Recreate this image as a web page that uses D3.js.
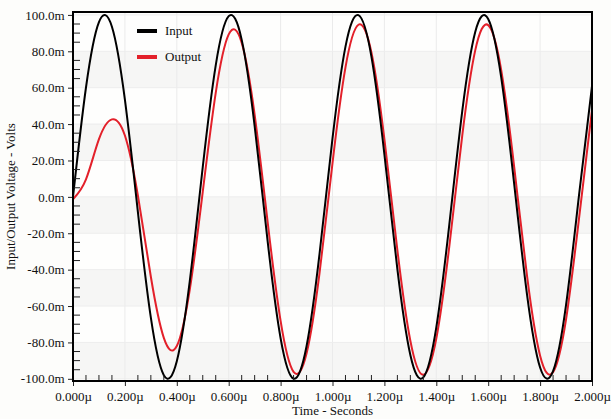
<!DOCTYPE html>
<html>
<head>
<meta charset="utf-8">
<script src="https://cdn.jsdelivr.net/npm/d3@7"></script>
<style>
  body { margin: 0; background: #fdfdfb; }
  svg text { font-family: "Liberation Serif", "Times New Roman", serif; fill: #111; }
</style>
</head>
<body>
<div id="chart"></div>
<script>
// time in microseconds
var timeUs = [0, 0.05, 0.1, 0.15, 0.2, 0.25, 0.3, 0.35, 0.4, 0.45, 0.5, 0.55, 0.6, 0.65, 0.7, 0.75, 0.8, 0.85, 0.9, 0.95,
  1.0, 1.05, 1.1, 1.15, 1.2, 1.25, 1.3, 1.35, 1.4, 1.45, 1.5, 1.55, 1.6, 1.65, 1.7, 1.75, 1.8, 1.85, 1.9, 1.95, 2.0];
// volts in milli
var inputMv = [0, 60.1, 96.1, 93.5, 53.4, -8.2, -66.4, -98.0, -90.3, -46.3, 16.3, 72.3, 99.3, 86.4, 38.9, -24.3, -77.7, -99.9, -82.1, -31.3,
  32.1, 82.6, 99.9, 77.1, 23.4, -39.7, -86.9, -99.2, -71.7, -15.4, 47.1, 90.6, 97.8, 65.8, 7.3, -54.1, -93.8, -95.8, -59.4, 0.9, 60.8];
var outputMv = [-1.3, 9.6, 31.7, 42.6, 33.7, 0.8, -43.9, -77.5, -82.0, -51.0, 2.8, 57.2, 89.3, 84.7, 45.1, -13.7, -68.2, -96.2, -86.1, -41.9,
  18.6, 71.2, 94.6, 79.4, 31.7, -29.2, -79.1, -97.8, -77.9, -27.3, 33.7, 80.5, 94.4, 69.8, 16.6, -43.9, -87.3, -96.3, -67.3, -11.8, 47.8];

var seriesNames = ["Input", "Output"];
var xTicks = [0, 0.2, 0.4, 0.6, 0.8, 1.0, 1.2, 1.4, 1.6, 1.8, 2.0];
var yTicks = [-100, -80, -60, -40, -20, 0, 20, 40, 60, 80, 100];

var svgWidth = 611;
var svgHeight = 419;
var margin = { top: 12, right: 19, bottom: 38, left: 73 };
var width = svgWidth - margin.left - margin.right;
var height = svgHeight - margin.top - margin.bottom;

var svg = d3.select("#chart")
    .append("svg")
    .attr("width", svgWidth)
    .attr("height", svgHeight);

svg.append("rect")
    .attr("width", svgWidth)
    .attr("height", svgHeight)
    .attr("fill", "#fdfdfb");

var chartGroup = svg.append("g")
    .attr("transform", `translate(${margin.left},${margin.top})`);

var xScale = d3.scaleLinear().domain([0, 2]).range([0, width]);
var yScale = d3.scaleLinear().domain([-101.2, 101.6]).range([height, 0]);

// plot background + alternating bands
chartGroup.append("rect")
    .attr("width", width)
    .attr("height", height)
    .attr("fill", "#fefefd");

var bandStarts = yTicks.filter((d, i) => i < yTicks.length - 1 && i % 2 === 0);
chartGroup.selectAll(".band")
    .data(bandStarts)
    .enter()
    .append("rect")
    .attr("class", "band")
    .attr("x", 0)
    .attr("width", width)
    .attr("y", d => yScale(d + 20))
    .attr("height", d => yScale(d) - yScale(d + 20))
    .attr("fill", "#f6f6f5");

// grid lines
chartGroup.selectAll(".vgrid")
    .data(xTicks)
    .enter()
    .append("line")
    .attr("x1", d => xScale(d)).attr("x2", d => xScale(d))
    .attr("y1", 0).attr("y2", height)
    .attr("stroke", "#ebebeb")
    .attr("stroke-width", 1);

chartGroup.selectAll(".hgrid")
    .data(yTicks)
    .enter()
    .append("line")
    .attr("x1", 0).attr("x2", width)
    .attr("y1", d => yScale(d)).attr("y2", d => yScale(d))
    .attr("stroke", "#ededed")
    .attr("stroke-width", 1);

// curves
chartGroup.append("clipPath")
    .attr("id", "clip")
    .append("rect")
    .attr("width", width)
    .attr("height", height);

function makeLine(values) {
    return d3.line()
        .x((d, i) => xScale(timeUs[i]))
        .y(d => yScale(d))
        .curve(d3.curveNatural)(values);
}

chartGroup.append("path")
    .attr("clip-path", "url(#clip)")
    .attr("d", makeLine(outputMv))
    .attr("fill", "none")
    .attr("stroke", "#e3202a")
    .attr("stroke-width", 2);

chartGroup.append("path")
    .attr("clip-path", "url(#clip)")
    .attr("d", makeLine(inputMv))
    .attr("fill", "none")
    .attr("stroke", "#000")
    .attr("stroke-width", 2);

// minor ticks (inside)
var xMinor = d3.range(0, 2.001, 0.05).filter((d, i) => i % 4 !== 0);
var yMinor = d3.range(-100, 100.1, 5).filter((d, i) => i % 4 !== 0);

chartGroup.selectAll(".xminor")
    .data(xMinor)
    .enter()
    .append("line")
    .attr("x1", d => xScale(d)).attr("x2", d => xScale(d))
    .attr("y1", height).attr("y2", height - 6)
    .attr("stroke", "#222")
    .attr("stroke-width", 1);

chartGroup.selectAll(".yminor")
    .data(yMinor)
    .enter()
    .append("line")
    .attr("x1", 0).attr("x2", 7)
    .attr("y1", d => yScale(d)).attr("y2", d => yScale(d))
    .attr("stroke", "#222")
    .attr("stroke-width", 1);

// major axes
var bottomAxis = d3.axisBottom(xScale)
    .tickValues(xTicks)
    .tickSize(5)
    .tickPadding(6)
    .tickFormat(d => d.toFixed(3) + "\u00b5");
var leftAxis = d3.axisLeft(yScale)
    .tickValues(yTicks)
    .tickSize(5)
    .tickPadding(3.5)
    .tickFormat(d => d.toFixed(1) + "m");

var xAxis = chartGroup.append("g")
    .attr("transform", `translate(0,${height})`)
    .call(bottomAxis);
var yAxis = chartGroup.append("g")
    .call(leftAxis);

[xAxis, yAxis].forEach(function(ax) {
    ax.select(".domain").remove();
    ax.selectAll("line").attr("stroke", "#222");
    ax.selectAll("text").attr("font-size", "13px").attr("fill", "#111")
        .attr("font-family", "'Liberation Serif', 'Times New Roman', serif");
});

// frame
chartGroup.append("rect")
    .attr("width", width)
    .attr("height", height)
    .attr("fill", "none")
    .attr("stroke", "#000")
    .attr("stroke-width", 2);

// axis titles
svg.append("text")
    .attr("x", margin.left + width / 2)
    .attr("y", 415)
    .attr("text-anchor", "middle")
    .attr("font-size", "13px")
    .text("Time - Seconds");

svg.append("text")
    .attr("transform", `translate(15,${margin.top + height / 2}) rotate(-90)`)
    .attr("text-anchor", "middle")
    .attr("font-size", "13px")
    .text("Input/Output Voltage - Volts");

// legend
var legendColors = ["#000", "#e3202a"];
var legend = svg.append("g")
    .attr("transform", "translate(137,31)");
seriesNames.forEach(function(name, i) {
    legend.append("line")
        .attr("x1", 0).attr("x2", 20)
        .attr("y1", i * 26).attr("y2", i * 26)
        .attr("stroke", legendColors[i])
        .attr("stroke-width", 4);
    legend.append("text")
        .attr("x", 28)
        .attr("y", i * 26 + 4)
        .attr("font-size", "13px")
        .text(name);
});
</script>
</body>
</html>
